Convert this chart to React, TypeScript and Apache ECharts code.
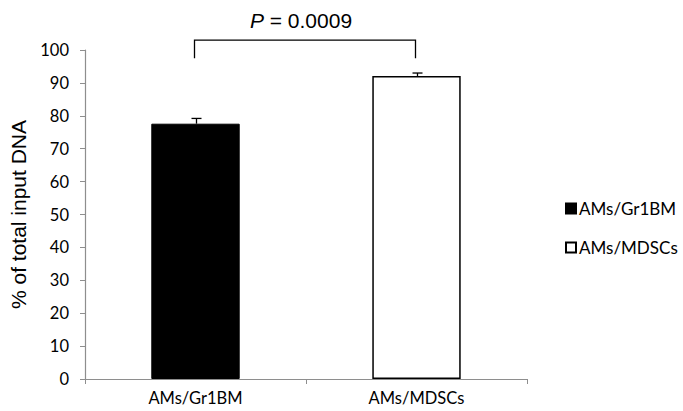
import React, { useEffect, useRef } from "react";
import * as echarts from "echarts";

const categories = ["AMs/Gr1BM", "AMs/MDSCs"];
const seriesNames = ["AMs/Gr1BM", "AMs/MDSCs"];
const meanValues = [77.6, 92.1];
const errorValues = [1.6, 0.9];
const yTicks = { min: 0, max: 100, interval: 10 };
const bracketTop = 103;
const bracketLegBottom = 97.5;
const pValueText = "0.0009";

export default function App() {
  const ref = useRef<HTMLDivElement>(null);
  useEffect(() => {
    if (!ref.current) return;
    const chart = echarts.init(ref.current, null, { renderer: "svg" });
    const axisGray = "#8e8e8e";
    const option: any = {
      animation: false,
      backgroundColor: "#ffffff",
      grid: { left: 85, right: 156, top: 50, bottom: 32, containLabel: false },
      legend: {
        orient: "vertical",
        left: 560,
        top: 195,
        itemWidth: 10,
        itemHeight: 10,
        itemGap: 22,
        icon: "rect",
        textStyle: { fontFamily: "Lato", fontSize: 17, color: "#000", padding: [0, 0, 0, -2] },
        data: seriesNames,
      },
      xAxis: {
        type: "category",
        data: categories,
        axisLine: { lineStyle: { color: axisGray, width: 1.2 } },
        axisTick: { show: true, length: 5, lineStyle: { color: axisGray } },
        axisLabel: { fontFamily: "Lato", fontSize: 16.5, color: "#000", margin: 10 },
      },
      yAxis: {
        type: "value",
        min: yTicks.min,
        max: yTicks.max,
        interval: yTicks.interval,
        name: "% of total input DNA",
        nameLocation: "middle",
        nameRotate: 90,
        nameGap: 50,
        nameTextStyle: { fontFamily: "Liberation Sans", fontSize: 21, color: "#000" },
        axisLine: { show: true, lineStyle: { color: axisGray, width: 1.2 } },
        axisTick: { show: true, length: 5, lineStyle: { color: axisGray } },
        axisLabel: { fontFamily: "Lato", fontSize: 16.5, color: "#000", margin: 16 },
        splitLine: { show: false },
      },
      series: [
        {
          name: seriesNames[0],
          type: "bar",
          data: [meanValues[0], "-"],
          barWidth: "40%",
          barGap: "-100%",
          itemStyle: { color: "#000000", borderColor: "#000", borderWidth: 1 },
        },
        {
          name: seriesNames[1],
          type: "bar",
          data: ["-", meanValues[1]],
          barWidth: "40%",
          barGap: "-100%",
          itemStyle: { color: "#ffffff", borderColor: "#000", borderWidth: 1.5 },
        },
        {
          type: "custom",
          name: "error",
          data: meanValues.map((v, i) => [i, v, v + errorValues[i]]),
          encode: { x: 0, y: [1, 2] },
          renderItem: (params: any, api: any) => {
            const x = api.value(0);
            const lo = api.coord([x, api.value(1)]);
            const hi = api.coord([x, api.value(2)]);
            const cx = lo[0] + 1;
            const half = 5;
            return {
              type: "group",
              children: [
                { type: "line", shape: { x1: cx, y1: lo[1], x2: cx, y2: hi[1] }, style: { stroke: "#000", lineWidth: 1.3 } },
                { type: "line", shape: { x1: cx - half, y1: hi[1], x2: cx + half, y2: hi[1] }, style: { stroke: "#000", lineWidth: 1.3 } },
              ],
            };
          },
          z: 5,
        },
        {
          type: "custom",
          name: "bracket",
          data: [[0, 1]],
          clip: false,
          renderItem: (params: any, api: any) => {
            const a = api.coord([api.value(0), bracketTop]);
            const b = api.coord([api.value(1), bracketTop]);
            const aLow = api.coord([api.value(0), bracketLegBottom]);
            const lx = a[0] - 1;
            const rx = b[0] - 1;
            return {
              type: "group",
              children: [
                {
                  type: "polyline",
                  shape: { points: [[lx, aLow[1]], [lx, a[1]], [rx, a[1]], [rx, aLow[1]]] },
                  style: { stroke: "#000", lineWidth: 1.3, fill: "none" },
                },
                {
                  type: "text",
                  x: (lx + rx) / 2 - 4,
                  y: a[1] - 20,
                  style: {
                    text: "{i|P} = " + pValueText,
                    align: "center",
                    verticalAlign: "middle",
                    fontFamily: "Liberation Sans",
                    fontSize: 21,
                    fill: "#000",
                    rich: { i: { fontStyle: "italic", fontFamily: "Liberation Sans", fontSize: 21, fill: "#000" } },
                  },
                },
              ],
            };
          },
          z: 5,
        },
      ],
    };
    chart.setOption(option);
    return () => chart.dispose();
  }, []);
  return <div ref={ref} style={{ width: 683, height: 411, position: "absolute", left: 0, top: 0 }} />;
}
